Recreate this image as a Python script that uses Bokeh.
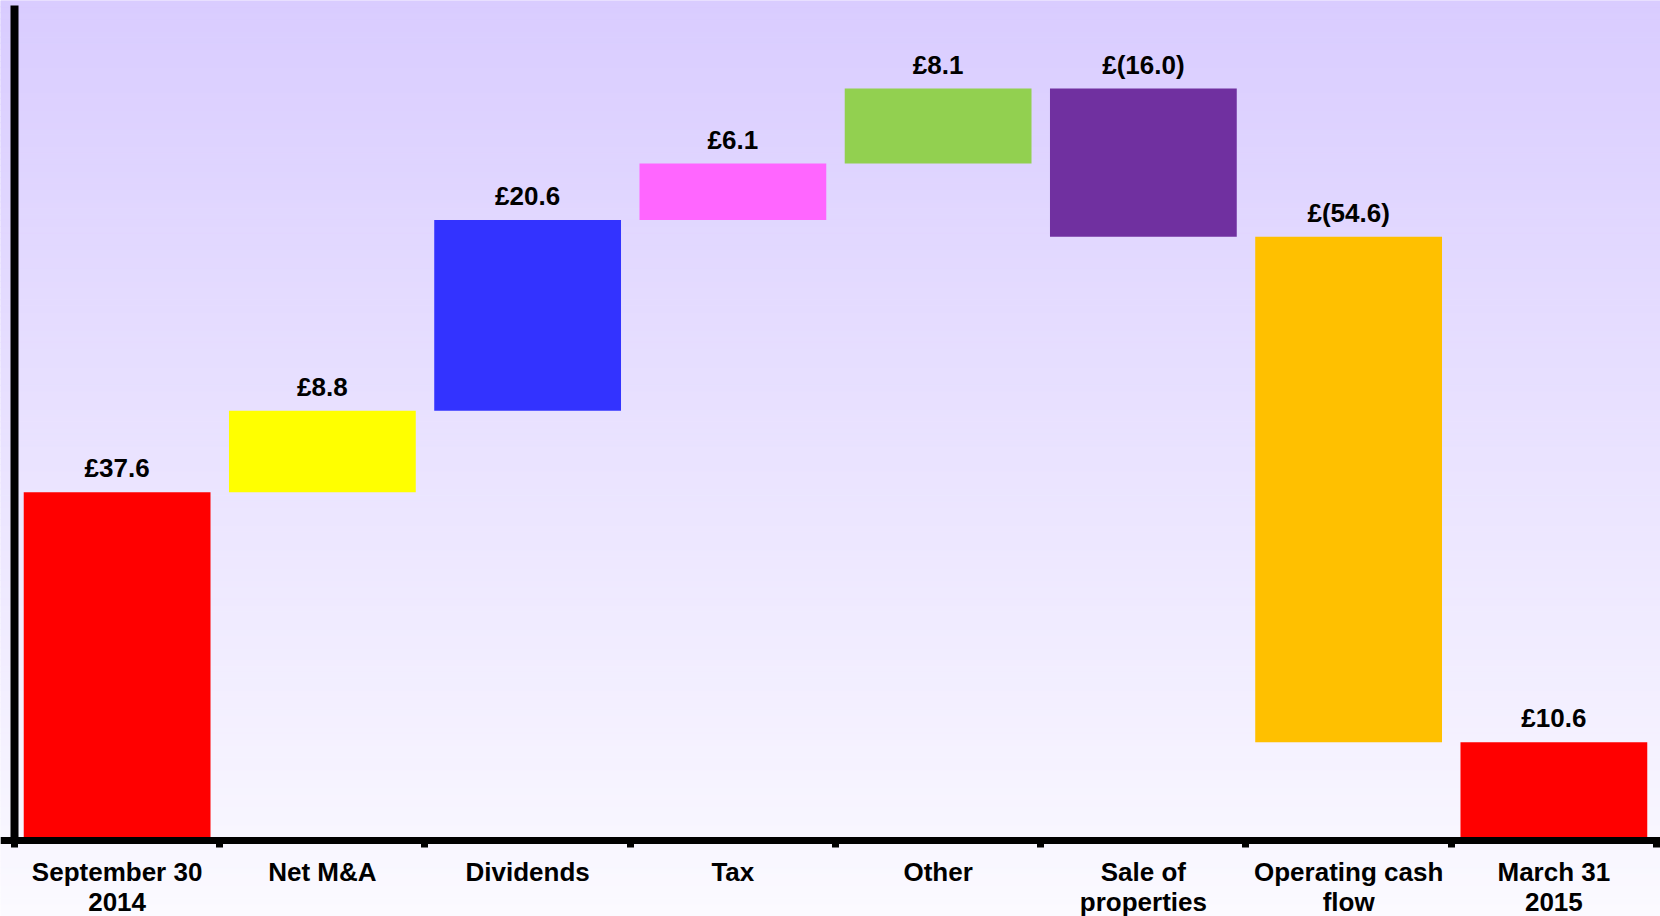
from bokeh.plotting import figure
from bokeh.models import Range1d, FixedTicker, ColumnDataSource, LabelSet
from bokeh.core.properties import value
from bokeh.embed import file_html
from bokeh.resources import INLINE

# ---- data ----
categories = ["September 30\n2014", "Net M&A", "Dividends", "Tax", "Other",
              "Sale of\nproperties", "Operating cash\nflow", "March 31\n2015"]
kinds = ["total", "delta", "delta", "delta", "delta", "delta", "delta", "total"]
values = [37.6, 8.8, 20.6, 6.1, 8.1, -16.0, -54.6, 10.6]
colors = ["#FF0000", "#FFFF00", "#3333FF", "#FF66FF", "#92D050", "#7030A0", "#FFC000", "#FF0000"]

# ---- derived waterfall geometry ----
bottoms, tops, running = [], [], 0.0
for k, v in zip(kinds, values):
    if k == "total":
        b, t = 0.0, v
        running = v
    else:
        b, t = running, running + v
        running = t
    bottoms.append(b)
    tops.append(t)
labels = [f"£{v:.1f}" if v >= 0 else f"£({-v:.1f})" for v in values]
centers = [i + 0.5 for i in range(len(categories))]
label_y = [max(b, t) for b, t in zip(bottoms, tops)]

X0, X1 = -0.0682, 8.0195
Y0, Y1 = -8.21, 90.71
YAXIS_TOP = 90.17

p = figure(width=1660, height=916, x_range=Range1d(X0, X1), y_range=Range1d(Y0, Y1),
           toolbar_location=None, output_backend="svg", min_border=0,
           outline_line_color=None, border_fill_color="#FAF9FF")
p.xgrid.visible = False
p.ygrid.visible = False

# background vertical gradient (top lavender -> bottom near white)
N = 150
top_c = (217, 204, 255)
bot_c = (251, 250, 255)
gb, gt, gc = [], [], []
for i in range(N):
    y_lo = Y0 + (Y1 - Y0) * i / N
    y_hi = Y0 + (Y1 - Y0) * (i + 1) / N
    f = (i + 0.5) / N
    c = tuple(int(round(bot_c[j] + (top_c[j] - bot_c[j]) * f)) for j in range(3))
    gb.append(y_lo)
    gt.append(y_hi)
    gc.append("#%02x%02x%02x" % c)
p.quad(left=X0, right=X1, bottom=gb, top=gt, fill_color=gc, line_color=gc, line_width=1)

src = ColumnDataSource(dict(x=centers, bottom=bottoms, top=tops, color=colors,
                            label=labels, ly=label_y))
p.vbar(x="x", width=0.91, bottom="bottom", top="top", fill_color="color",
       line_color=None, source=src)

p.add_layout(LabelSet(x="x", y="ly", text="label", source=src, text_align="center",
                      text_baseline="alphabetic", y_offset=15,
                      text_font=value("Liberation Sans"), text_font_style="bold",
                      text_font_size="26px", text_color="black"))

xa = p.xaxis[0]
xa.fixed_location = 0
xa.bounds = (X0, X1)
xa.ticker = FixedTicker(ticks=centers, minor_ticks=list(range(len(categories) + 1)))
xa.major_label_overrides = {c: lab for c, lab in zip(centers, categories)}
xa.axis_line_width = 7
xa.axis_line_color = "black"
xa.major_tick_line_color = None
xa.major_tick_out = 0
xa.major_tick_in = 0
xa.minor_tick_line_color = "black"
xa.minor_tick_line_width = 7
xa.minor_tick_out = 7
xa.minor_tick_in = 0
xa.major_label_standoff = 10
xa.major_label_text_font = "Liberation Sans"
xa.major_label_text_font_style = "bold"
xa.major_label_text_font_size = "26px"
xa.major_label_text_color = "black"
xa.major_label_text_line_height = 1.0

ya = p.yaxis[0]
ya.fixed_location = 0
ya.bounds = (0, YAXIS_TOP)
ya.ticker = FixedTicker(ticks=[])
ya.axis_line_width = 8
ya.axis_line_color = "black"
ya.major_tick_line_color = None
ya.minor_tick_line_color = None
ya.major_label_text_font_size = "0px"

open("out.html", "w").write(file_html(p, INLINE))
